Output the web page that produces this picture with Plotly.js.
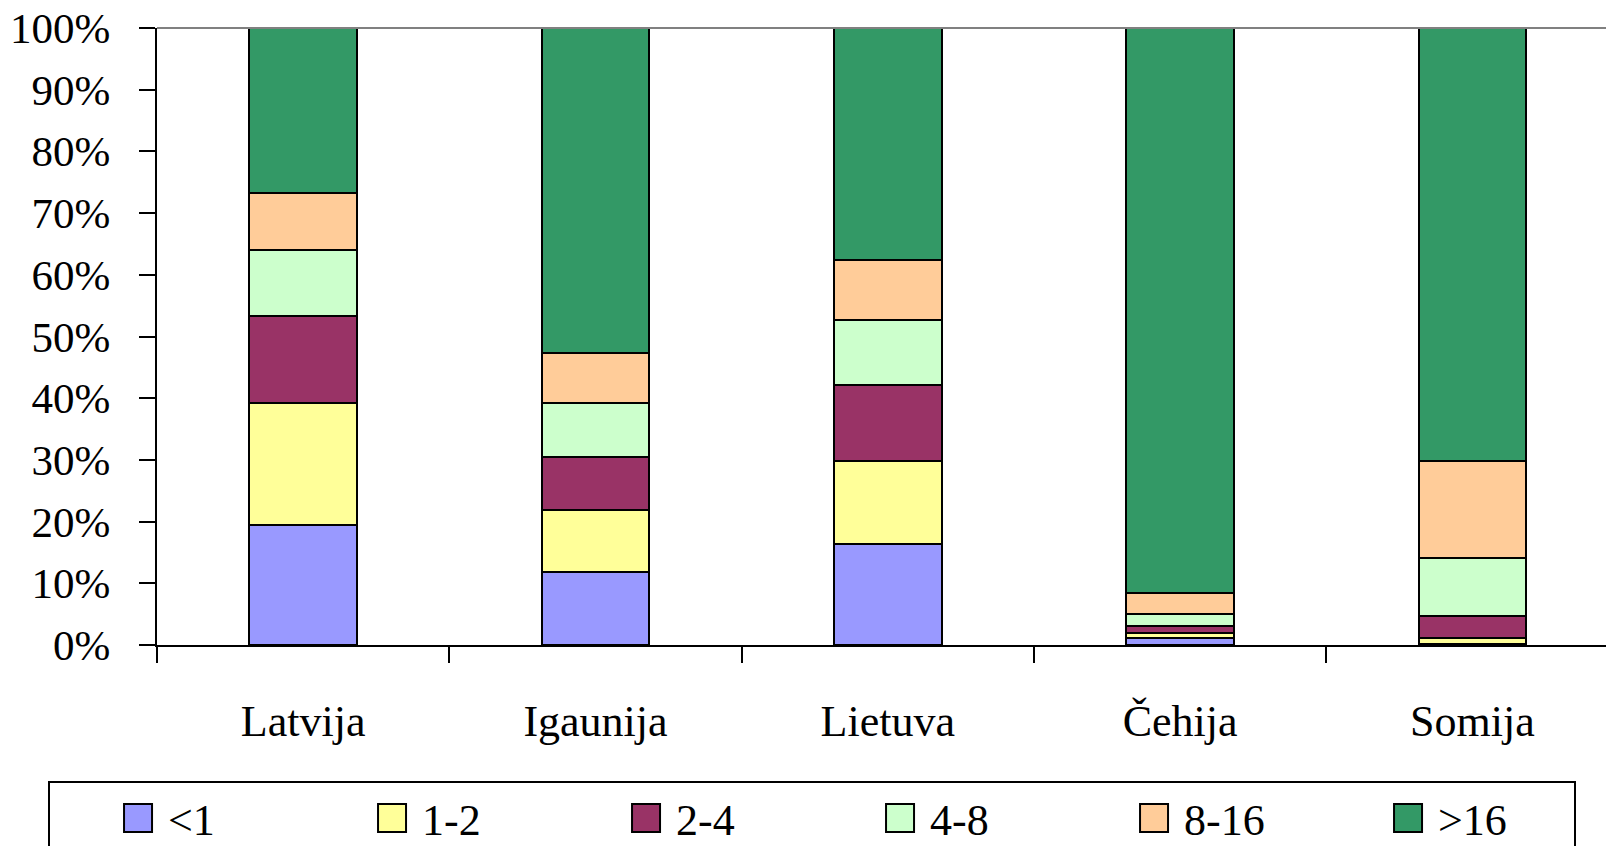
<!DOCTYPE html>
<html>
<head>
<meta charset="utf-8">
<script src="https://cdn.plot.ly/plotly-3.0.1.min.js"></script>
<style>
  html, body { margin: 0; padding: 0; background: #ffffff; }
  #chart { width: 1606px; height: 846px; }
</style>
</head>
<body>
<div id="chart"></div>
<script>
// Categories (countries)
const countries = ["Latvija", "Igaunija", "Lietuva", "Čehija", "Somija"];

// Series names (size classes)
const seriesNames = ["<1", "1-2", "2-4", "4-8", "8-16", ">16"];

// Share of each size class per country (%)
const lt1   = [19.4, 11.8, 16.3, 1.1, 0.2];
const s1_2  = [19.9, 10.1, 13.6, 0.8, 0.9];
const s2_4  = [14.1,  8.6, 12.2, 1.2, 3.6];
const s4_8  = [10.6,  8.8, 10.5, 2.0, 9.4];
const s8_16 = [ 9.3,  8.1,  9.8, 3.3, 15.7];
const gt16  = [26.7, 52.6, 37.6, 91.6, 70.2];

const seriesValues = [lt1, s1_2, s2_4, s4_8, s8_16, gt16];
const seriesColors = ["#9999FF", "#FFFF99", "#993366", "#CCFFCC", "#FFCC99", "#339966"];

const yTickVals = [0, 10, 20, 30, 40, 50, 60, 70, 80, 90, 100];

const FONT = "'Liberation Serif', 'Times New Roman', serif";

const traces = seriesNames.map((name, i) => ({
  type: "bar",
  name: name,
  x: countries,
  y: seriesValues[i],
  width: 0.368,
  marker: { color: seriesColors[i], line: { color: "#000000", width: 2 } },
  hoverinfo: "x+y+name"
}));

const layout = {
  width: 1606,
  height: 846,
  margin: { l: 157, r: 0, t: 28, b: 201, pad: 0, autoexpand: false },
  paper_bgcolor: "#ffffff",
  plot_bgcolor: "#ffffff",
  barmode: "stack",
  font: { family: FONT, size: 43, color: "#000000" },
  xaxis: {
    type: "category",
    range: [-0.5, 4.457],
    automargin: false,
    showline: true,
    linecolor: "#000000",
    linewidth: 2,
    ticks: "outside",
    tickson: "boundaries",
    ticklen: 16,
    tickwidth: 2,
    tickcolor: "#000000",
    ticklabelstandoff: 36,
    showgrid: false,
    zeroline: false,
    tickfont: { family: FONT, size: 44, color: "#000000" }
  },
  yaxis: {
    range: [0, 100],
    automargin: false,
    tickvals: yTickVals,
    ticktext: yTickVals.map(v => v + "%"),
    showline: true,
    linecolor: "#000000",
    linewidth: 2,
    ticks: "outside",
    ticklen: 16,
    tickwidth: 2,
    tickcolor: "#000000",
    ticklabelstandoff: 20,
    showgrid: false,
    zeroline: false,
    tickfont: { family: FONT, size: 43, color: "#000000" }
  },
  shapes: [{
    type: "line", xref: "paper", yref: "paper",
    x0: 0, x1: 1, y0: 1, y1: 1,
    line: { color: "#808080", width: 2 }
  }],
  showlegend: true,
  legend: {
    orientation: "h",
    x: -0.0752,
    xanchor: "left",
    y: -0.2204,
    yanchor: "top",
    bordercolor: "#000000",
    borderwidth: 2,
    bgcolor: "#ffffff",
    entrywidth: 131,
    indentation: 78,
    traceorder: "normal",
    font: { family: FONT, size: 44, color: "#000000" }
  }
};

function enlargeLegendSwatches() {
  document.querySelectorAll("#chart .legend .legendpoints path").forEach(p => {
    p.setAttribute("d", "M4,14H-24V-14H4Z");
  });
}

Plotly.newPlot("chart", traces, layout, { displayModeBar: false, responsive: false })
  .then(gd => {
    enlargeLegendSwatches();
    gd.on("plotly_afterplot", enlargeLegendSwatches);
  });
</script>
</body>
</html>
